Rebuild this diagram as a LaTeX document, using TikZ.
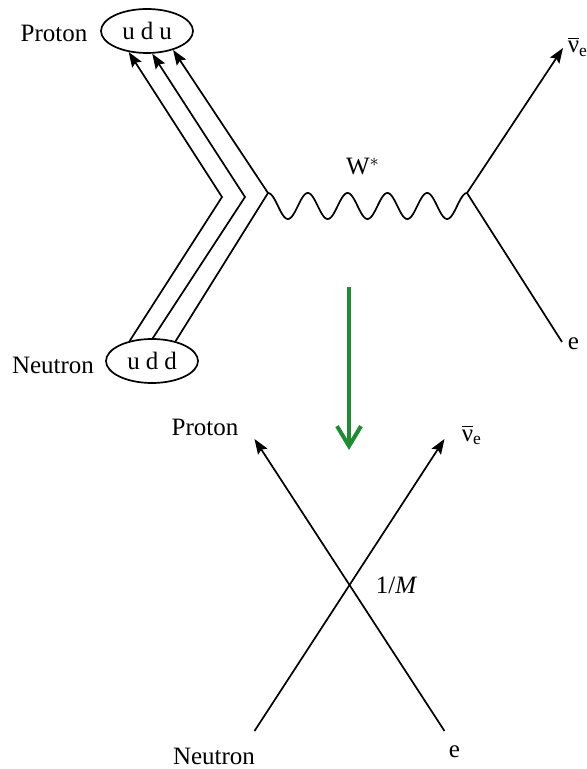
\documentclass[tikz,border=0pt]{standalone}
\usepackage{fontspec}
\setmainfont{Liberation Serif}
\usetikzlibrary{arrows.meta,shapes.geometric}
\definecolor{arrowgreen}{RGB}{30,140,50}
\begin{document}
\begin{tikzpicture}[x=0.5pt,y=-0.5pt,>={Stealth[length=7.5pt,width=5.5pt,inset=1.2pt]},line width=0.85pt,
  font=\fontsize{12.5}{15}\selectfont,
  quark/.style={draw,ellipse,minimum width=46pt,minimum height=22pt,inner sep=0pt},
  lbl/.style={anchor=base,inner sep=0pt}]
  \useasboundingbox (0,0) rectangle (587,769);

  % 上图: 强子与夸克
  \node[quark] (udu) at (147,31) {u\hspace{3pt}d\hspace{3pt}u};
  \node[quark] (udd) at (152,361) {u\hspace{3pt}d\hspace{3pt}d};
  \node[lbl] (proton) at (54,42) {Proton};
  \node[lbl] (neutron) at (53,373) {Neutron};

  \coordinate (k1) at (222,197);
  \coordinate (k2) at (245,197);
  \coordinate (v1) at (268,193);
  \coordinate (v2) at (467,193);
  \draw[->] (udd.138) -- (k1) -- (udu.-131);
  \draw[->] (udd.88) -- (k2) -- (udu.-77);
  \draw[->] (udd.40) -- (v1) -- (udu.-36);

  % W 传播子
  \draw[line join=round] plot[domain=268:467,samples=200,smooth] (\x,{206-13*cos(9.045*(\x-268))});
  \node[lbl] (w) at (363,175) {W$^{*}$};

  % 轻子
  \coordinate (nutip) at (563,48);
  \coordinate (eend) at (562,342);
  \node[lbl,anchor=base west] (nu) at (567,53) {$\overline{\mbox{ν}}$\textsubscript{e}};
  \node[lbl,anchor=base west] (e) at (567,350) {e};
  \draw[->] (v2) -- (nutip);
  \draw (v2) -- (eend);

  % 绿色箭头
  \coordinate (g1) at (349,287);
  \coordinate (g2) at (349,450);
  \draw[arrowgreen,line width=2pt,-{Straight Barb[length=10pt,width=12pt]}] (g1) -- (g2);

  % 下图: 四费米子点相互作用
  \coordinate (c) at (349.5,585);
  \coordinate (nb) at (254.5,731);
  \coordinate (pt) at (254.5,439);
  \coordinate (eb) at (444.5,731);
  \coordinate (nt) at (444.5,439);
  \draw[->] (eb) -- (pt);
  \draw[->] (nb) -- (nt);
  \node[lbl] (proton2) at (205,435) {Proton};
  \node[lbl,anchor=base west] (nu2) at (461,441) {$\overline{\mbox{ν}}$\textsubscript{e}};
  \node[lbl,anchor=base west] (coup) at (375,593) {1/\textit{M}};
  \node[lbl] (neutron2) at (214,764) {Neutron};
  \node[lbl,anchor=base west] (e2) at (448,757) {e};
\end{tikzpicture}
\end{document}
